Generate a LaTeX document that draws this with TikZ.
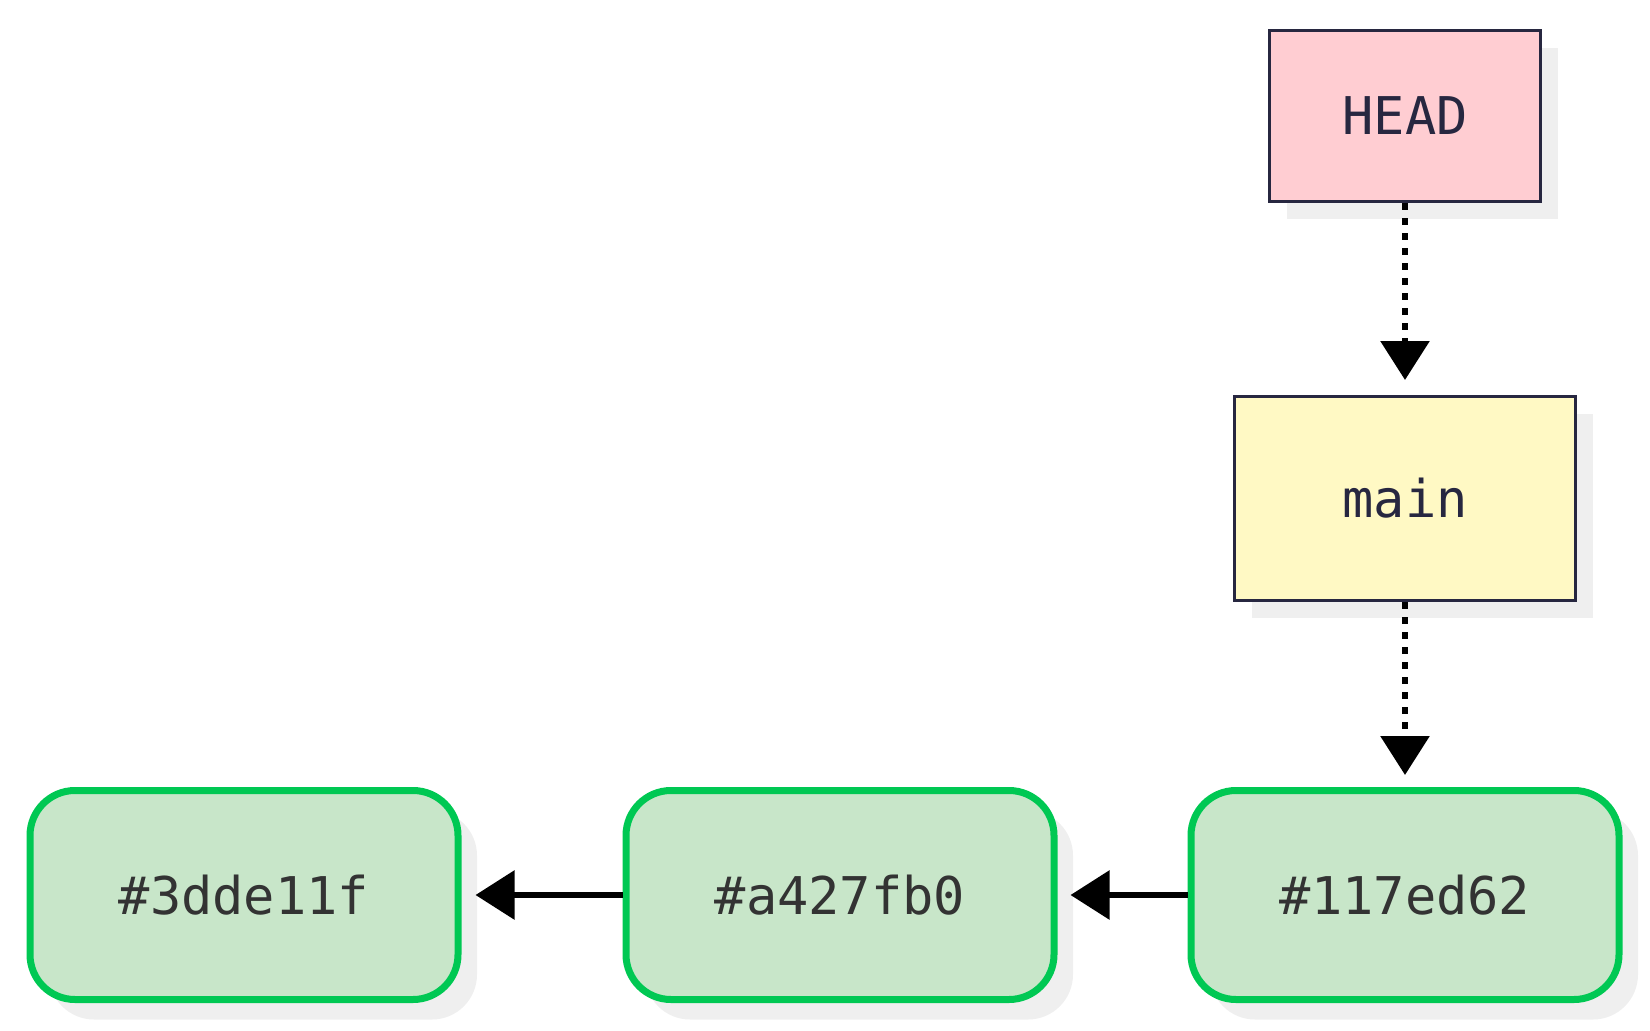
\documentclass[tikz,border=0pt]{standalone}
\usepackage{fontspec}
\usetikzlibrary{arrows.meta,shadows}
\newfontfamily\lblfont{DejaVu Sans Mono}
\definecolor{pinkfill}{HTML}{FFCDD2}
\definecolor{yellowfill}{HTML}{FFF9C4}
\definecolor{greenfill}{HTML}{C8E6C9}
\definecolor{greenline}{HTML}{00C853}
\definecolor{darkline}{HTML}{272740}
\definecolor{committext}{HTML}{333333}
\definecolor{shadowgray}{HTML}{EFEFEF}
\tikzset{
  lbl/.style={font=\lblfont\fontsize{52}{60}\selectfont},
  refbox/.style={lbl, draw=darkline, line width=3pt, text=darkline,
    inner sep=0pt,
    drop shadow={shadow xshift=17pt, shadow yshift=-17pt, fill=shadowgray, opacity=1}},
  commitbox/.style={lbl, draw=greenline, fill=greenfill, line width=7pt, text=committext,
    rounded corners=45pt, inner sep=0pt,
    minimum width=428pt, minimum height=209pt,
    drop shadow={shadow xshift=19pt, shadow yshift=-20pt, fill=shadowgray, opacity=1}},
  solidarrow/.style={line width=6pt, -{Triangle[length=39pt,width=48pt]}},
  dotarrow/.style={line width=6pt, dash pattern=on 7pt off 8pt, -{Triangle[length=39pt,width=48pt]}}
}
\begin{document}
\begin{tikzpicture}[x=1pt,y=-1pt]
\useasboundingbox (0,0) rectangle (1650,1031);
\node[refbox, fill=pinkfill, minimum width=271pt, minimum height=171pt] (head) at (1405,116) {HEAD};
\node[refbox, fill=yellowfill, minimum width=341pt, minimum height=204pt] (main) at (1405,498.5) {main};
\node[commitbox] (c1) at (244,895) {\#3dde11f};
\node[commitbox] (c2) at (840,895) {\#a427fb0};
\node[commitbox] (c3) at (1405,895) {\#117ed62};
\draw[dotarrow] (head.south) -- ([yshift=15pt]main.north);
\draw[dotarrow] (main.south) -- ([yshift=12pt]c3.north);
\draw[solidarrow] (c3.west) -- ([xshift=13pt]c2.east);
\draw[solidarrow] (c2.west) -- ([xshift=14pt]c1.east);
\end{tikzpicture}
\end{document}
